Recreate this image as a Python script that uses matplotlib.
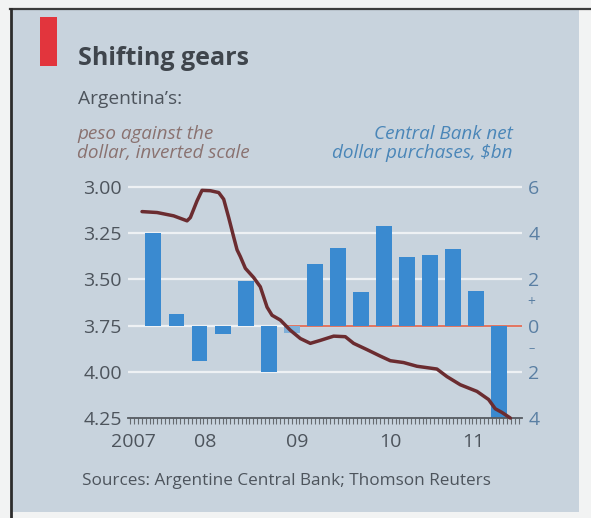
import matplotlib
matplotlib.use("Agg")
import matplotlib.pyplot as plt
from matplotlib.patches import Rectangle
from matplotlib.lines import Line2D
import numpy as np

plt.rcParams['font.family'] = ['Open Sans', 'DejaVu Sans']

# ---------------- data ----------------
# quarterly Central Bank net dollar purchases, $bn (2007Q4 .. 2011Q3)
bar_quarters = ["2007Q4", "2008Q1", "2008Q2", "2008Q3", "2008Q4",
                "2009Q1", "2009Q2", "2009Q3", "2009Q4",
                "2010Q1", "2010Q2", "2010Q3", "2010Q4",
                "2011Q1", "2011Q2", "2011Q3"]
bar_values = [4.0, 0.5, -1.55, -0.35, 1.95, -2.0, -0.3, 2.65,
              3.35, 1.45, 4.3, 2.95, 3.05, 3.3, 1.5, -4.0]

# peso per dollar (inverted scale), decimal-year dates
peso_t = [2007.752, 2007.915, 2008.095, 2008.240, 2008.276, 2008.348, 2008.402,
          2008.493, 2008.583, 2008.637, 2008.691, 2008.745, 2008.782, 2008.818,
          2008.872, 2008.962, 2009.034, 2009.107, 2009.161, 2009.251, 2009.359,
          2009.468, 2009.576, 2009.684, 2009.829, 2009.955, 2010.045, 2010.190,
          2010.334, 2010.443, 2010.587, 2010.732, 2010.948, 2011.057, 2011.201,
          2011.382, 2011.508, 2011.580, 2011.653, 2011.743]
peso_v = [3.133, 3.138, 3.156, 3.183, 3.165, 3.075, 3.018,
          3.020, 3.030, 3.066, 3.165, 3.270, 3.340, 3.377,
          3.440, 3.490, 3.540, 3.650, 3.694, 3.720, 3.775,
          3.820, 3.846, 3.830, 3.807, 3.810, 3.846, 3.880,
          3.915, 3.940, 3.950, 3.970, 3.985, 4.026, 4.070,
          4.106, 4.150, 4.200, 4.220, 4.250]

left_ticks = [3.00, 3.25, 3.50, 3.75, 4.00, 4.25]
left_labels = ["3.00", "3.25", "3.50", "3.75", "4.00", "4.25"]
right_ticks = [6, 4, 2, 0, -2, -4]
right_labels = ["6", "4", "2", "0", "2", "4"]
year_labels = ["2007", "08", "09", "10", "11"]
year_label_pos = [2007.66, 2008.44, 2009.435, 2010.44, 2011.34]

title = "Shifting gears"
subtitle = "Argentina\u2019s:"
left_caption = "peso against the\ndollar, inverted scale"
right_caption = "Central Bank net\ndollar purchases, $bn"
source = "Sources: Argentine Central Bank; Thomson Reuters"

# ---------------- styling ----------------
W, H = 591, 518
BG = "#c8d3dd"
GRID = "#eef1f4"
BAR = "#3a8ad0"
LINE = "#6b2c30"
DARK = "#4d545c"
LBLUE = "#5a7fa3"
BROWN = "#8a7270"

fig = plt.figure(figsize=(W / 100, H / 100), dpi=100)
fig.patch.set_facecolor("#f2f3f3")

def fx(x):
    return x / W

def fy(y):
    return 1 - y / H

# scanned page panel
fig.add_artist(Rectangle((fx(11), fy(512)), (579 - 11) / W, (512 - 9) / H,
                         transform=fig.transFigure, facecolor=BG, edgecolor="none", zorder=0))
fig.add_artist(Line2D([fx(10), fx(591)], [fy(9), fy(9)], transform=fig.transFigure,
                      color="#3c3c3c", lw=1.6, zorder=1))
fig.add_artist(Line2D([fx(10.5), fx(10.5)], [fy(9), fy(518)], transform=fig.transFigure,
                      color="#2c2c2c", lw=2.0, zorder=1))
# red tag
fig.add_artist(Rectangle((fx(40), fy(66)), 17 / W, 49 / H, transform=fig.transFigure,
                         facecolor="#e2353d", edgecolor="none", zorder=2))

# axes geometry (pixels)
x0, x1 = 128, 522
y_bot = 418
peso_top = 2.962
ax = fig.add_axes([fx(x0), fy(y_bot), (x1 - x0) / W, (y_bot - 180) / H])
ax.set_facecolor("none")
ax2 = ax.twinx()

# x range in decimal years
xmin, xmax = 2007.60, 2011.87
ax.set_xlim(xmin, xmax)

# bars axis: 0 aligned with 3.75; 6 with 3.00; -4 with 4.25
def peso_to_bn(p):
    return (3.75 - p) / 0.125

ax.set_ylim(peso_to_bn(4.25), peso_to_bn(peso_top))
ax2.set_ylim(4.25, peso_top)

# gridlines
for v in right_ticks[:-1]:
    ax.axhline(v, color=GRID, lw=1.6, zorder=1)
ax.plot([2009.30, xmax], [0, 0], color="#e2735e", lw=1.4, zorder=1.5, solid_capstyle="butt")

# bars
q_center = [int(q[:4]) + (int(q[-1]) - 1) * 0.25 + 0.125 for q in bar_quarters]
bar_colors = [BAR] * len(bar_values)
bar_colors[6] = "#7fb0d9"
ax.bar(q_center, bar_values, width=0.172, color=bar_colors, zorder=2, linewidth=0)

# peso line
ax2.plot(peso_t, peso_v, color=LINE, lw=2.5, zorder=5, solid_joinstyle="round",
         solid_capstyle="round", clip_on=False)

# spines
for a in (ax, ax2):
    for s in a.spines.values():
        s.set_visible(False)
ax.spines["bottom"].set_visible(True)
ax.spines["bottom"].set_color("#555a60")
ax.spines["bottom"].set_linewidth(1.3)

# y ticks
ax.yaxis.tick_right()
ax.set_yticks(right_ticks)
ax.set_yticklabels(right_labels)
ax.tick_params(axis="y", length=0, pad=4.5, labelsize=14, labelcolor=LBLUE)
ax2.yaxis.tick_left()
ax2.set_yticks(left_ticks)
ax2.set_yticklabels(left_labels)
ax2.tick_params(axis="y", length=0, pad=4.5, labelsize=14, labelcolor=DARK)
for lab in ax.get_yticklabels():
    lab.set_horizontalalignment("left")

# plus/minus marks on right scale
ax.text(1.0 + 9.5 / (x1 - x0), 1.0, "+", transform=ax.get_yaxis_transform(),
        ha="center", va="center", fontsize=10, color=LBLUE)
ax.text(1.0 + 9.5 / (x1 - x0), -1.0, "\u2013", transform=ax.get_yaxis_transform(),
        ha="center", va="center", fontsize=9, color=LBLUE)

# x ticks
ax.set_xticks(year_label_pos)
ax.set_xticklabels(year_labels)
ax.tick_params(axis="x", which="major", length=0, pad=11, labelsize=14, labelcolor=DARK)
ax.set_xticks(np.arange(2007.625, xmax, 1 / 24), minor=True)
ax.tick_params(axis="x", which="minor", length=4.5, width=0.8, color="#666b70", direction="out")

# texts
fig.text(fx(78), fy(65), title, fontsize=18, fontweight="bold", color="#3f454c",
         ha="left", va="baseline")
fig.text(fx(78), fy(104), subtitle, fontsize=13.8, color=DARK, ha="left", va="baseline")
fig.text(fx(77), fy(158), left_caption, fontsize=13.6, style="italic", color=BROWN,
         ha="left", va="baseline", linespacing=1.05)
fig.text(fx(513), fy(158), right_caption, fontsize=13.6, style="italic", color="#4a86b8",
         ha="right", va="baseline", linespacing=1.05, multialignment="right")
fig.text(fx(82), fy(485), source, fontsize=12.3, color=DARK, ha="left", va="baseline")

fig.savefig("out.png", dpi=100, facecolor=fig.get_facecolor())
